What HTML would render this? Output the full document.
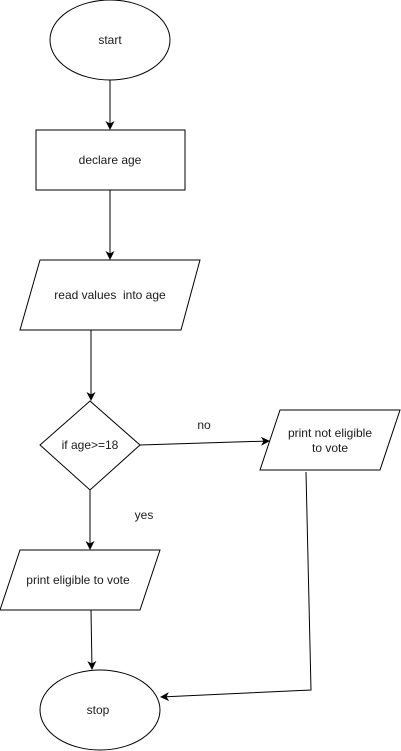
<!DOCTYPE html>
<html><head><style>
html,body{margin:0;padding:0;background:#fff;}
svg{display:block;}
text{font-family:"Liberation Sans",Arial,sans-serif;font-size:12px;fill:#1a1a1a;}
</style></head><body>
<svg width="401" height="751" viewBox="0 0 401 751" xmlns="http://www.w3.org/2000/svg">
<defs><marker id="a" markerWidth="10" markerHeight="10" refX="8" refY="5" orient="auto" markerUnits="userSpaceOnUse"><path d="M0,0.5 L9,5 L0,9.5 L2.5,5 Z" fill="#000"/></marker></defs>
<g fill="#fff" stroke="#000" stroke-width="1">
<ellipse cx="110" cy="40" rx="60" ry="40"/>
<rect x="36" y="130" width="149" height="60"/>
<polygon points="40,260 200,260 181,330 20,330"/>
<polygon points="90,401 140,445 90,490 40,445"/>
<polygon points="280,410 400,410 380,470 260,470"/>
<polygon points="20,550 160,550 140,610 0,610"/>
<ellipse cx="100" cy="710" rx="60" ry="40"/>
</g>
<g stroke="#000" stroke-width="1" fill="none">
<line x1="110" y1="80" x2="110" y2="129" marker-end="url(#a)"/>
<line x1="110" y1="190" x2="110" y2="259" marker-end="url(#a)"/>
<line x1="91" y1="330" x2="91" y2="400" marker-end="url(#a)"/>
<line x1="140" y1="445" x2="269" y2="441" marker-end="url(#a)"/>
<line x1="90" y1="490" x2="90" y2="549" marker-end="url(#a)"/>
<line x1="91" y1="610" x2="92" y2="669" marker-end="url(#a)"/>
<polyline points="306,472 311,690 161,697" marker-end="url(#a)"/>
</g>
<text x="110" y="44" text-anchor="middle">start</text>
<text x="110" y="164" text-anchor="middle">declare age</text>
<text x="110" y="299" text-anchor="middle">read values&#160; into age</text>
<text x="90" y="449" text-anchor="middle">if age&gt;=18</text>
<text x="330" y="437" text-anchor="middle">print not eligible</text>
<text x="330" y="452" text-anchor="middle">to vote</text>
<text x="78" y="584" text-anchor="middle">print eligible to vote</text>
<text x="98" y="714" text-anchor="middle">stop</text>
<text x="204" y="429" text-anchor="middle">no</text>
<text x="144" y="519" text-anchor="middle">yes</text>
</svg>
</body></html>
